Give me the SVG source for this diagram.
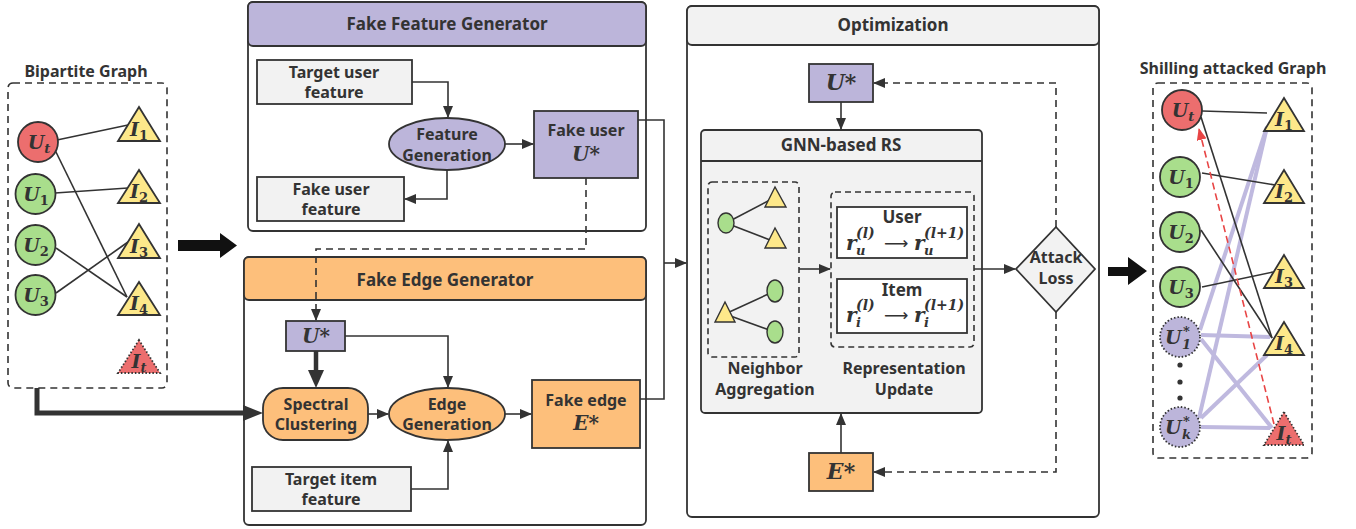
<svg xmlns="http://www.w3.org/2000/svg" width="1356" height="529" viewBox="0 0 1356 529">
<style>
.t{font-family:"Noto Sans","Liberation Sans",sans-serif;font-weight:bold;fill:#333;text-anchor:middle}
.t16{font-size:17px}
.t15{font-size:16px}
.m{font-family:"DejaVu Serif","Liberation Serif",serif;font-weight:bold;font-style:italic;fill:#333}
.mc{text-anchor:middle}
.ln{stroke:#333;stroke-width:1.6;fill:none}
.dsh{stroke:#333;stroke-width:1.6;fill:none;stroke-dasharray:7,5}
.box{stroke:#333;stroke-width:1.8}
.gray{fill:#f2f2f2}
.lav{fill:#bcb5da}
.org{fill:#fdbf7b}
.grn{fill:#a9de8c}
.red{fill:#ec6e6e}
.yel{fill:#fde88a}
.lv{stroke:#bfb9df;stroke-width:4;fill:none}
</style>
<defs>
<marker id="a" markerUnits="userSpaceOnUse" markerWidth="12" markerHeight="10" refX="11" refY="5" orient="auto"><path d="M0,0 L12,5 L0,10 z" fill="#333"/></marker>
<marker id="ar" markerUnits="userSpaceOnUse" markerWidth="12" markerHeight="10" refX="11" refY="5" orient="auto"><path d="M0,0 L12,5 L0,10 z" fill="#e84545"/></marker>
</defs>

<!-- Bipartite graph -->
<g id="bipartite">
<text class="t t15" x="86" y="77">Bipartite Graph</text>
<rect x="8" y="83" width="159" height="305" rx="5" fill="none" stroke="#333" stroke-width="1.6" stroke-dasharray="7,5"/>
<g class="ln">
<line x1="57" y1="140" x2="128" y2="125"/>
<line x1="55" y1="150" x2="127" y2="297"/>
<line x1="55" y1="193" x2="128" y2="188"/>
<line x1="56" y1="248" x2="127" y2="297"/>
<line x1="56" y1="293" x2="128" y2="242"/>
</g>
<g id="l-Ut"><circle cx="38" cy="142" r="20" class="red box"/><text class="m mc" x="39" y="149" font-size="19">U<tspan font-size="13" dy="4">t</tspan></text></g>
<g id="l-U1"><circle cx="35.5" cy="194" r="20" class="grn box"/><text class="m mc" x="36" y="201" font-size="19">U<tspan font-size="13" dy="4" font-style="normal">1</tspan></text></g>
<g id="l-U2"><circle cx="35.5" cy="245" r="20" class="grn box"/><text class="m mc" x="36" y="252" font-size="19">U<tspan font-size="13" dy="4" font-style="normal">2</tspan></text></g>
<g id="l-U3"><circle cx="35.5" cy="295" r="20" class="grn box"/><text class="m mc" x="36" y="302" font-size="19">U<tspan font-size="13" dy="4" font-style="normal">3</tspan></text></g>
<g id="l-I1"><polygon points="139,107 118,141 160,141" class="yel box"/><text class="m mc" x="139" y="136" font-size="19">I<tspan font-size="13" dy="4" font-style="normal">1</tspan></text></g>
<g id="l-I2"><polygon points="139,170 118,203 160,203" class="yel box"/><text class="m mc" x="139" y="198" font-size="19">I<tspan font-size="13" dy="4" font-style="normal">2</tspan></text></g>
<g id="l-I3"><polygon points="139,224 118,258 160,258" class="yel box"/><text class="m mc" x="139" y="253" font-size="19">I<tspan font-size="13" dy="4" font-style="normal">3</tspan></text></g>
<g id="l-I4"><polygon points="139,282 118,315 160,315" class="yel box"/><text class="m mc" x="139" y="310" font-size="19">I<tspan font-size="13" dy="4" font-style="normal">4</tspan></text></g>
<g id="l-It"><polygon points="139,340 118,373 160,373" class="red" stroke="#333" stroke-width="1.8" stroke-dasharray="1.5,2"/><text class="m mc" x="139" y="368" font-size="19">I<tspan font-size="13" dy="4">t</tspan></text></g>
</g>

<!-- big arrows -->
<g id="bigarrow-left"><polygon points="178,240 220,240 220,233 237,245.5 220,258 220,251 178,251" fill="#111"/></g>
<g id="bigarrow-right"><polygon points="1108,267 1128,267 1128,257 1147,271 1128,285 1128,276 1108,276" fill="#111"/></g>

<!-- Fake Feature Generator -->
<g id="ffg">
<rect x="248" y="2" width="398" height="229" rx="5" fill="#fff" class="box"/>
<rect x="248" y="2" width="398" height="44" rx="5" class="lav box"/>
<text class="t t16" x="447" y="30">Fake Feature Generator</text>
</g>
<g id="target-user-feature"><rect x="257" y="60" width="155" height="44" class="gray box"/><text class="t t15" x="334" y="78">Target user</text><text class="t t15" x="334" y="98">feature</text></g>
<g id="fake-user-feature"><rect x="257" y="177" width="147" height="44" class="gray box"/><text class="t t15" x="331" y="195">Fake user</text><text class="t t15" x="331" y="215">feature</text></g>
<g id="feature-generation"><ellipse cx="447" cy="144" rx="58" ry="26" class="lav box"/><text class="t t15" x="447" y="140">Feature</text><text class="t t15" x="447" y="161">Generation</text></g>
<g id="fake-user"><rect x="534" y="111" width="104" height="67" class="lav box"/><text class="t t15" x="586" y="136">Fake user</text><text class="m mc" x="586" y="161" font-size="20">U*</text></g>

<!-- Fake Edge Generator -->
<g id="feg">
<rect x="244" y="257" width="402" height="268" rx="5" fill="#fff" class="box"/>
<rect x="244" y="257" width="402" height="43" rx="5" class="org box"/>
<text class="t t16" x="445" y="286">Fake Edge Generator</text>
</g>
<g id="u-star-1"><rect x="286" y="321" width="59" height="30" class="lav box"/><text class="m mc" x="316" y="343" font-size="20">U*</text></g>
<g id="spectral"><rect x="263" y="388" width="105" height="52" rx="20" class="org box"/><text class="t t15" x="316" y="410">Spectral</text><text class="t t15" x="316" y="430">Clustering</text></g>
<g id="edge-generation"><ellipse cx="447" cy="414" rx="58" ry="26" class="org box"/><text class="t t15" x="447" y="410">Edge</text><text class="t t15" x="447" y="430">Generation</text></g>
<g id="fake-edge"><rect x="532" y="380" width="108" height="68" class="org box"/><text class="t t15" x="586" y="406">Fake edge</text><text class="m mc" x="586" y="430" font-size="20">E*</text></g>
<g id="target-item-feature"><rect x="252" y="467" width="159" height="44" class="gray box"/><text class="t t15" x="331" y="485">Target item</text><text class="t t15" x="331" y="505">feature</text></g>

<!-- Optimization -->
<g id="opt">
<rect x="687" y="6" width="412" height="511" rx="5" fill="#fff" class="box"/>
<rect x="687" y="6" width="412" height="39" rx="5" class="gray box"/>
<text class="t t16" x="893" y="31">Optimization</text>
</g>
<g id="u-star-2"><rect x="809" y="64" width="64" height="38" class="lav box"/><text class="m mc" x="841" y="90" font-size="22">U*</text></g>
<g id="gnn">
<rect x="701" y="130" width="281" height="283" rx="4" class="gray box"/>
<line x1="701" y1="161" x2="982" y2="161" stroke="#333" stroke-width="1.8"/>
<text class="t t16" x="841" y="151">GNN-based RS</text>
</g>
<g id="neighbor-aggregation">
<rect x="708" y="182" width="91" height="175" rx="4" fill="none" stroke="#333" stroke-width="1.6" stroke-dasharray="6,4"/>
<g class="ln"><line x1="726" y1="223" x2="770" y2="200"/><line x1="726" y1="223" x2="770" y2="240"/><line x1="725" y1="314" x2="775" y2="291"/><line x1="725" y1="314" x2="775" y2="332"/></g>
<ellipse cx="726" cy="223" rx="8" ry="10" class="grn" stroke="#333" stroke-width="1.4"/>
<polygon points="775,187 765,207 786,207" class="yel" stroke="#333" stroke-width="1.4"/>
<polygon points="775,228 765,248 786,248" class="yel" stroke="#333" stroke-width="1.4"/>
<polygon points="725,302 715,322 735,322" class="yel" stroke="#333" stroke-width="1.4"/>
<ellipse cx="775" cy="291" rx="8" ry="11" class="grn" stroke="#333" stroke-width="1.4"/>
<ellipse cx="775" cy="332" rx="8" ry="11" class="grn" stroke="#333" stroke-width="1.4"/>
<text class="t t15" x="765" y="374">Neighbor</text><text class="t t15" x="765" y="395">Aggregation</text>
</g>
<g id="representation-update">
<rect x="831" y="192" width="143" height="155" rx="4" fill="none" stroke="#333" stroke-width="1.6" stroke-dasharray="6,4"/>
<rect x="837" y="207" width="130" height="51" fill="#fff" class="box"/>
<text class="t t16" x="902" y="223">User</text>
<text class="m" x="846" y="250" font-size="20">r</text>
<text class="m" x="856" y="255" font-size="13">u</text>
<text class="m" x="856" y="238" font-size="14" font-style="normal">(<tspan font-style="italic">l</tspan>)</text>
<text x="884" y="249" font-size="17" font-family="DejaVu Sans,sans-serif" fill="#333">⟶</text>
<text class="m" x="914" y="250" font-size="20">r</text>
<text class="m" x="924" y="255" font-size="13">u</text>
<text class="m" x="924" y="238" font-size="14" font-style="normal">(<tspan font-style="italic">l</tspan>+1)</text>
<rect x="837" y="279" width="130" height="54" fill="#fff" class="box"/>
<text class="t t16" x="902" y="296">Item</text>
<text class="m" x="846" y="322" font-size="20">r</text>
<text class="m" x="856" y="327" font-size="13">i</text>
<text class="m" x="856" y="310" font-size="14" font-style="normal">(<tspan font-style="italic">l</tspan>)</text>
<text x="884" y="321" font-size="17" font-family="DejaVu Sans,sans-serif" fill="#333">⟶</text>
<text class="m" x="914" y="322" font-size="20">r</text>
<text class="m" x="924" y="327" font-size="13">i</text>
<text class="m" x="924" y="310" font-size="14" font-style="normal">(<tspan font-style="italic">l</tspan>+1)</text>
<text class="t t15" x="904" y="374">Representation</text><text class="t t15" x="904" y="395">Update</text>
</g>
<g id="attack-loss"><polygon points="1056,227 1095,269 1056,312 1016,269" class="gray box"/><text class="t t15" x="1056" y="263">Attack</text><text class="t t15" x="1056" y="284">Loss</text></g>
<g id="e-star"><rect x="809" y="453" width="64" height="38" class="org box"/><text class="m mc" x="841" y="479" font-size="22">E*</text></g>

<!-- Shilling attacked graph -->
<g id="shilling">
<text class="t t15" x="1233" y="74">Shilling attacked Graph</text>
<rect x="1153" y="83" width="159" height="375" rx="5" fill="none" stroke="#333" stroke-width="1.6" stroke-dasharray="7,5"/>
<g class="lv">
<line x1="1200" y1="330" x2="1267" y2="127"/>
<line x1="1201" y1="335" x2="1270" y2="337"/>
<line x1="1201" y1="339" x2="1272" y2="428"/>
<line x1="1199" y1="418" x2="1267" y2="127"/>
<line x1="1201" y1="418" x2="1267" y2="355"/>
<line x1="1201" y1="427" x2="1270" y2="428"/>
</g>
<g class="ln">
<line x1="1202" y1="111" x2="1267" y2="113"/>
<line x1="1201" y1="117" x2="1272" y2="338"/>
<line x1="1202" y1="173" x2="1275" y2="185"/>
<line x1="1201" y1="230" x2="1272" y2="338"/>
<line x1="1202" y1="287" x2="1273" y2="272"/>
</g>
<line x1="1274" y1="424" x2="1199" y2="129" stroke="#e84545" stroke-width="1.6" stroke-dasharray="7,4" marker-end="url(#ar)"/>
<g id="r-Ut"><circle cx="1182" cy="110" r="20" class="red box"/><text class="m mc" x="1183" y="117" font-size="19">U<tspan font-size="13" dy="4">t</tspan></text></g>
<g id="r-U1"><circle cx="1180" cy="177" r="20" class="grn box"/><text class="m mc" x="1181" y="184" font-size="19">U<tspan font-size="13" dy="4" font-style="normal">1</tspan></text></g>
<g id="r-U2"><circle cx="1180" cy="232" r="20" class="grn box"/><text class="m mc" x="1181" y="239" font-size="19">U<tspan font-size="13" dy="4" font-style="normal">2</tspan></text></g>
<g id="r-U3"><circle cx="1180" cy="287" r="20" class="grn box"/><text class="m mc" x="1181" y="294" font-size="19">U<tspan font-size="13" dy="4" font-style="normal">3</tspan></text></g>
<g id="r-U1s"><circle cx="1180" cy="337" r="20" class="lav" stroke="#333" stroke-width="1.8" stroke-dasharray="1.5,2"/><text class="m" x="1165" y="344" font-size="19">U</text><text class="m" x="1182" y="349" font-size="13" font-style="normal">1</text><text class="m" x="1183" y="336" font-size="13" font-style="normal">*</text></g>
<g id="dots"><circle cx="1180" cy="365" r="2.6" fill="#333"/><circle cx="1180" cy="382" r="2.6" fill="#333"/><circle cx="1180" cy="398" r="2.6" fill="#333"/></g>
<g id="r-Uks"><circle cx="1180" cy="427" r="20" class="lav" stroke="#333" stroke-width="1.8" stroke-dasharray="1.5,2"/><text class="m" x="1165" y="434" font-size="19">U</text><text class="m" x="1182" y="439" font-size="13">k</text><text class="m" x="1183" y="426" font-size="13" font-style="normal">*</text></g>
<g id="r-I1"><polygon points="1284,98 1264,131 1304,131" class="yel box"/><text class="m mc" x="1284" y="126" font-size="19">I<tspan font-size="13" dy="4" font-style="normal">1</tspan></text></g>
<g id="r-I2"><polygon points="1284,170 1264,203 1304,203" class="yel box"/><text class="m mc" x="1284" y="198" font-size="19">I<tspan font-size="13" dy="4" font-style="normal">2</tspan></text></g>
<g id="r-I3"><polygon points="1284,255 1264,288 1304,288" class="yel box"/><text class="m mc" x="1284" y="283" font-size="19">I<tspan font-size="13" dy="4" font-style="normal">3</tspan></text></g>
<g id="r-I4"><polygon points="1284,322 1264,355 1304,355" class="yel box"/><text class="m mc" x="1284" y="350" font-size="19">I<tspan font-size="13" dy="4" font-style="normal">4</tspan></text></g>
<g id="r-It"><polygon points="1284,412 1264,445 1304,445" class="red" stroke="#333" stroke-width="1.8" stroke-dasharray="1.5,2"/><text class="m mc" x="1284" y="440" font-size="19">I<tspan font-size="13" dy="4">t</tspan></text></g>
</g>

<!-- connectors -->
<g id="connectors">
<polyline class="ln" points="412,82 448,82 448,117" marker-end="url(#a)"/>
<line class="ln" x1="505" y1="144" x2="533" y2="144" marker-end="url(#a)"/>
<polyline class="ln" points="447,170 447,199 405,199" marker-end="url(#a)"/>
<polyline class="ln" points="638,120 664,120 664,399 640,399"/>
<line class="ln" x1="664" y1="263" x2="686" y2="263" marker-end="url(#a)"/>
<polyline class="dsh" points="586,178 586,249 316,249 316,320" marker-end="url(#a)"/>
<line x1="316" y1="351" x2="316" y2="372" stroke="#333" stroke-width="4.5"/>
<polygon points="308,370 324,370 316,388" fill="#333"/>
<polyline class="ln" points="345,336 448,336 448,387" marker-end="url(#a)"/>
<line class="ln" x1="368" y1="414" x2="388" y2="414" marker-end="url(#a)"/>
<line class="ln" x1="505" y1="414" x2="531" y2="414" marker-end="url(#a)"/>
<polyline class="ln" points="411,489 448,489 448,441" marker-end="url(#a)"/>
<polyline points="37,388 37,413 246,413" fill="none" stroke="#333" stroke-width="5"/>
<polygon points="243,405 263,413 243,421" fill="#333"/>
<line class="ln" x1="841" y1="102" x2="841" y2="129" marker-end="url(#a)"/>
<line class="ln" x1="841" y1="453" x2="841" y2="414" marker-end="url(#a)"/>
<line class="ln" x1="799" y1="269" x2="830" y2="269" marker-end="url(#a)"/>
<line class="ln" x1="974" y1="269" x2="1015" y2="269" marker-end="url(#a)"/>
<polyline class="dsh" points="1056,227 1056,83 874,83" marker-end="url(#a)"/>
<polyline class="dsh" points="1056,312 1056,472 874,472" marker-end="url(#a)"/>
</g>
</svg>
